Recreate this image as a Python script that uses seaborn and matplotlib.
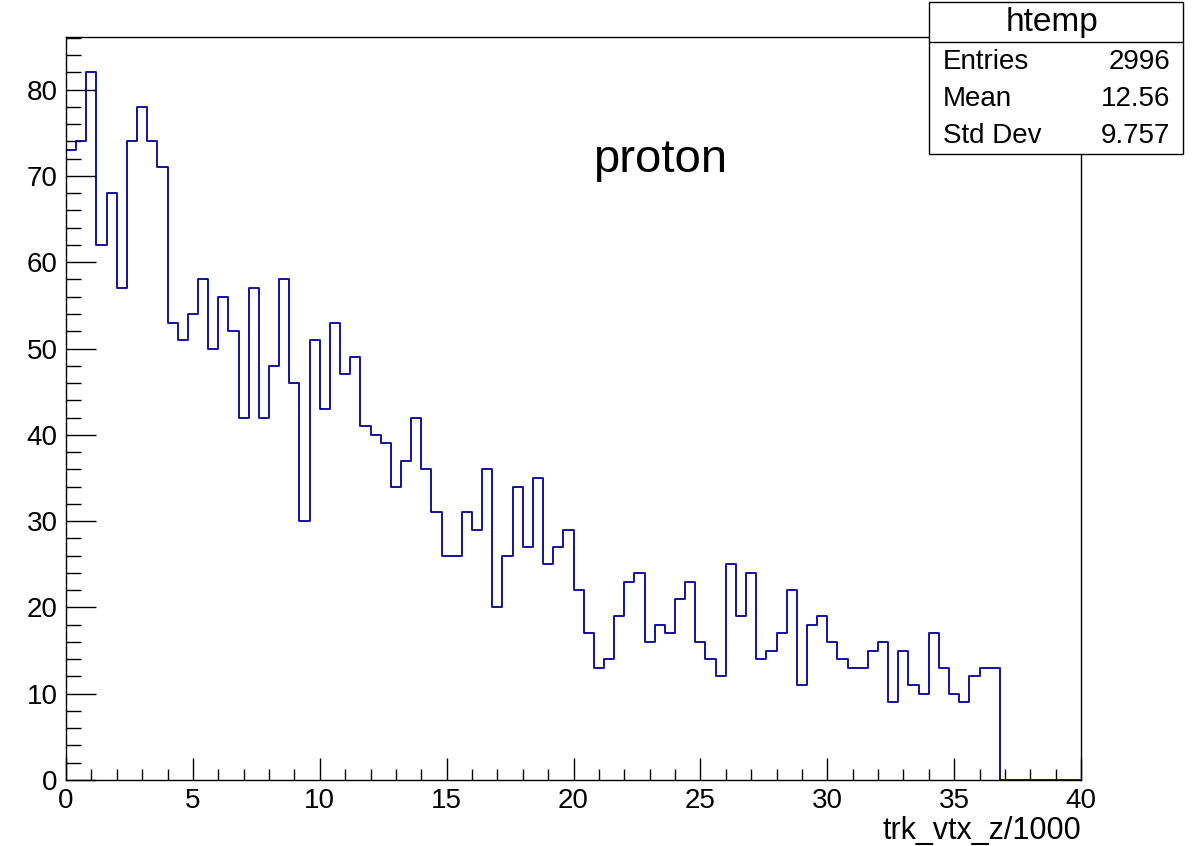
# proton_vtx_hist.py
import numpy as np
import pandas as pd
import matplotlib
matplotlib.use("Agg")
import matplotlib.pyplot as plt
from matplotlib.ticker import MultipleLocator
from matplotlib.patches import Rectangle
from matplotlib.lines import Line2D
import seaborn as sns

# ---- Histogram data (100 bins, 0..40) ----
bin_edges = np.linspace(0, 40, 101)
counts = [73, 74, 82, 62, 68, 57, 74, 78, 74, 71,
          53, 51, 54, 58, 50, 56, 52, 42, 57, 42,
          48, 58, 46, 30, 51, 43, 53, 47, 49, 41,
          40, 39, 34, 37, 42, 36, 31, 26, 26, 31,
          29, 36, 20, 26, 34, 27, 35, 25, 27, 29,
          22, 17, 13, 14, 19, 23, 24, 16, 18, 17,
          21, 23, 16, 14, 12, 25, 19, 24, 14, 15,
          17, 22, 11, 18, 19, 16, 14, 13, 13, 15,
          16, 9, 15, 11, 10, 17, 13, 10, 9, 12,
          13, 13, 0, 0, 0, 0, 0, 0, 0, 0]

stats_title = "htemp"
stats_names = ["Entries", "Mean", "Std Dev"]
stats_values = ["2996", "12.56", "9.757"]

df = pd.DataFrame({"trk_vtx_z": (bin_edges[:-1] + bin_edges[1:]) / 2,
                   "n": counts})

# ---- Style ----
sns.set_style("ticks", {"text.color": "black", "xtick.color": "black",
                        "ytick.color": "black", "axes.labelcolor": "black"})
plt.rcParams["font.family"] = ["Liberation Sans", "DejaVu Sans"]

fig = plt.figure(figsize=(11.94, 8.46), dpi=100)
ax = fig.add_axes([66 / 1194, 1 - 780 / 846, (1081 - 66) / 1194, (780 - 37) / 846])

sns.histplot(data=df, x="trk_vtx_z", weights="n", bins=list(bin_edges), element="step",
             fill=False, color="#000099", linewidth=1.3, ax=ax)

ax.set_xlim(0, 40)
ax.set_ylim(0, 86.1)
ax.set_ylabel("")
ax.set_xlabel("trk_vtx_z/1000", loc="right", fontsize=22, labelpad=1, color="black")

ax.xaxis.set_major_locator(MultipleLocator(5))
ax.xaxis.set_minor_locator(MultipleLocator(1))
ax.yaxis.set_major_locator(MultipleLocator(10))
ax.yaxis.set_minor_locator(MultipleLocator(2))
ax.tick_params(axis="x", which="major", direction="in", length=16, width=1, labelsize=20,
               pad=6, colors="black")
ax.tick_params(axis="x", which="minor", direction="in", length=8, width=1, colors="black")
ax.tick_params(axis="y", which="major", direction="in", length=21.5, width=1, labelsize=20,
               pad=6, colors="black")
ax.tick_params(axis="y", which="minor", direction="in", length=10.8, width=1, colors="black")
for s in ax.spines.values():
    s.set_visible(True)
    s.set_linewidth(1)
    s.set_color("black")

ax.text(0.585, 0.835, "proton", transform=ax.transAxes, fontsize=34,
        ha="center", va="center", color="black")

# ---- Stats box ----
bx0, bx1 = 929 / 1194, 1183 / 1194
by0, by1 = 1 - 154 / 846, 1 - 2 / 846
fig.patches.append(Rectangle((bx0, by0), bx1 - bx0, by1 - by0, transform=fig.transFigure,
                             facecolor="white", edgecolor="black", linewidth=1, zorder=5))
fig.lines.append(Line2D([bx0, bx1], [1 - 42 / 846] * 2, transform=fig.transFigure,
                        color="black", linewidth=1, zorder=6))
fig.text(1052 / 1194, 1 - 22 / 846, stats_title, ha="center", va="center",
         fontsize=24, zorder=7, color="black")
for i, (name, val) in enumerate(zip(stats_names, stats_values)):
    yy = 1 - (62 + 37 * i) / 846
    fig.text(943 / 1194, yy, name, ha="left", va="center", fontsize=20, zorder=7, color="black")
    fig.text(1170 / 1194, yy, val, ha="right", va="center", fontsize=20, zorder=7, color="black")

fig.savefig("out.png", dpi=100)
